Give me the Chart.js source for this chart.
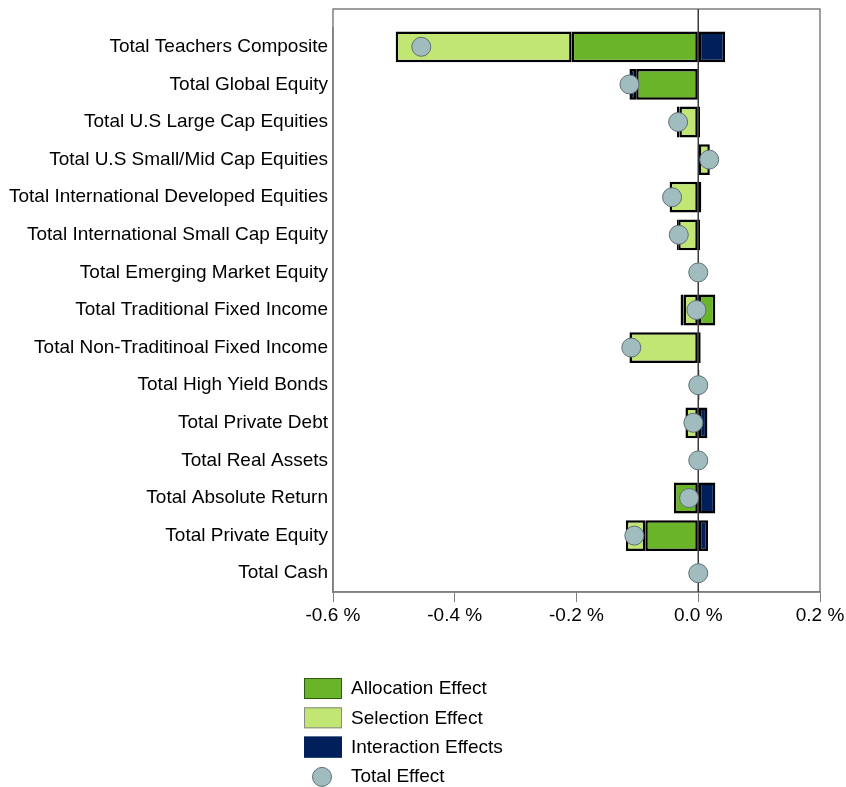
<!DOCTYPE html>
<html>
<head>
<meta charset="utf-8">
<script src="https://cdn.jsdelivr.net/npm/chart.js@4.4.1/dist/chart.umd.min.js"></script>
<style>
  html, body { margin: 0; padding: 0; background: #fff; }
  #wrap { position: relative; width: 846px; height: 787px; }
</style>
</head>
<body>
<div id="wrap"><canvas id="attribution" width="846" height="787"></canvas></div>
<script>
const categories = [
    'Total Teachers Composite',
    'Total Global Equity',
    'Total U.S Large Cap Equities',
    'Total U.S Small/Mid Cap Equities',
    'Total International Developed Equities',
    'Total International Small Cap Equity',
    'Total Emerging Market Equity',
    'Total Traditional Fixed Income',
    'Total Non-Traditinoal Fixed Income',
    'Total High Yield Bonds',
    'Total Private Debt',
    'Total Real Assets',
    'Total Absolute Return',
    'Total Private Equity',
    'Total Cash',
];

// values in %
const allocation  = [-0.208, -0.102, 0.003, -0.001, 0.005, 0.003, 0, 0.028, 0.004, 0.002, 0, 0, -0.040, -0.087, 0];
const selection   = [-0.289, 0.001, -0.031, 0.019, -0.047, -0.033, 0, -0.024, -0.113, 0, -0.021, 0, 0, -0.032, 0];
const interaction = [0.044, -0.011, -0.004, 0, 0, -0.002, 0, -0.005, 0, 0, 0.015, 0, 0.028, 0.016, 0];
const totalEffect = [-0.455, -0.113, -0.033, 0.018, -0.043, -0.032, 0, -0.003, -0.110, 0, -0.008, 0, -0.015, -0.105, 0];

const xTicks = [-0.6, -0.4, -0.2, 0.0, 0.2];

const FONT = 'Liberation Sans, Arial, sans-serif';
const FRAME_TOP = 9;

// legend drawn as a vertical list under the plot
const legendList = {
    id: 'legendList',
    afterDraw(chart) {
        const c = chart.ctx;
        const x0 = 304, y0 = 688, step = 29.3;
        c.save();
        c.font = '19px ' + FONT;
        c.textBaseline = 'middle';
        c.fillStyle = '#000';
        chart.data.datasets.forEach((ds, i) => {
            const y = y0 + i * step;
            if (ds.type === 'line') {
                c.beginPath();
                c.arc(x0 + 18, y + 1, 9.5, 0, Math.PI * 2);
                c.fillStyle = ds.backgroundColor;
                c.fill();
                c.lineWidth = 1;
                c.strokeStyle = ds.borderColor;
                c.stroke();
            } else {
                c.fillStyle = ds.backgroundColor;
                c.fillRect(x0, y - 10, 38, 21);
                c.lineWidth = 1;
                c.strokeStyle = ds.legendBorder;
                c.strokeRect(x0 + 0.5, y - 9.5, 37, 20);
            }
            c.fillStyle = '#000';
            c.fillText(ds.label, x0 + 47, y + 1);
        });
        c.restore();
    }
};

// grey frame round the plot and the zero line, both from the frame top
const frame = {
    id: 'frame',
    beforeDatasetsDraw(chart) {
        const a = chart.chartArea;
        const c = chart.ctx;
        const x0 = chart.scales.x.getPixelForValue(0);
        c.save();
        c.strokeStyle = '#7f7f7f';
        c.lineWidth = 1.5;
        c.strokeRect(a.left, FRAME_TOP, a.right - a.left, a.bottom - FRAME_TOP);
        c.strokeStyle = '#3a3a3a';
        c.beginPath();
        c.moveTo(x0, FRAME_TOP);
        c.lineTo(x0, a.bottom);
        c.stroke();
        c.restore();
    }
};

const ctx = document.getElementById('attribution').getContext('2d');

const myChart = new Chart(ctx, {
    type: 'bar',
    data: {
        labels: categories,
        datasets: [
            {
                label: 'Allocation Effect',
                data: allocation,
                backgroundColor: '#6ab42a',
                legendBorder: '#2f5a12',
                borderColor: '#000',
                borderWidth: 2.5,
                borderSkipped: false,
                stack: 'effects',
                order: 1,
            },
            {
                label: 'Selection Effect',
                data: selection,
                backgroundColor: '#c2e673',
                legendBorder: '#8a8a8a',
                borderColor: '#000',
                borderWidth: 2.5,
                borderSkipped: false,
                stack: 'effects',
                order: 1,
            },
            {
                label: 'Interaction Effects',
                data: interaction,
                backgroundColor: '#001f5b',
                legendBorder: '#001f5b',
                borderColor: '#000',
                borderWidth: 2.5,
                borderSkipped: false,
                stack: 'effects',
                order: 1,
            },
            {
                type: 'line',
                label: 'Total Effect',
                data: totalEffect,
                indexAxis: 'y',
                showLine: false,
                pointRadius: 9.5,
                pointHoverRadius: 9.5,
                pointBackgroundColor: '#a1bcbf',
                pointBorderColor: '#5d6f74',
                pointBorderWidth: 1,
                backgroundColor: '#a1bcbf',
                borderColor: '#5d6f74',
                stack: 'total',
                order: 0,
            },
        ],
    },
    options: {
        indexAxis: 'y',
        responsive: false,
        animation: false,
        layout: { padding: { top: 28, right: 26, left: 0, bottom: 0 } },
        datasets: {
            bar: { categoryPercentage: 0.82, barPercentage: 1 },
        },
        plugins: {
            legend: { display: false },
            tooltip: { enabled: false },
        },
        scales: {
            x: {
                type: 'linear',
                stacked: true,
                min: -0.6,
                max: 0.2,
                afterBuildTicks: (scale) => { scale.ticks = xTicks.map(v => ({ value: v })); },
                afterFit: (scale) => { scale.height = 195; scale.paddingLeft = 0; scale.paddingRight = 0; },
                ticks: {
                    color: '#000',
                    font: { size: 19, family: FONT },
                    padding: 2,
                    callback: (v) => Number(v).toFixed(1) + ' %',
                },
                grid: {
                    drawOnChartArea: false,
                    tickColor: '#7f7f7f',
                    tickLength: 10,
                },
                border: { display: true, color: '#7f7f7f', width: 1.5 },
            },
            y: {
                stacked: true,
                afterFit: (scale) => { scale.width = 333; scale.paddingTop = 0; scale.paddingBottom = 0; },
                ticks: {
                    color: '#000',
                    font: { size: 19, family: FONT },
                    padding: 5,
                    autoSkip: false,
                },
                grid: { display: false, drawTicks: false },
                border: { display: true, color: '#7f7f7f', width: 1.5 },
            },
        },
    },
    plugins: [frame, legendList],
});
</script>
</body>
</html>
